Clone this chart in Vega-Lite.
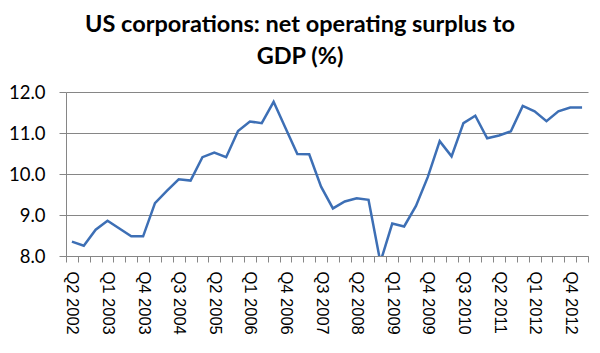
{
  "$schema": "https://vega.github.io/schema/vega-lite/v6.json",
  "autosize": {"type": "none"},
  "width": 522,
  "height": 164,
  "padding": {"left": 66, "top": 92, "right": 12, "bottom": 97},
  "background": "white",
  "config": {"view": {"stroke": null}},
  "title": {
    "text": ["US corporations: net operating surplus to", "GDP (%)"],
    "font": "Lato",
    "fontSize": 23.5,
    "fontWeight": "bold",
    "color": "#000000",
    "lineHeight": 32,
    "anchor": "middle",
    "frame": "group",
    "dx": -27,
    "offset": 15
  },
  "data": {
    "values": [
      {"q": "Q2 2002", "v": 8.35},
      {"q": "Q3 2002", "v": 8.25},
      {"q": "Q4 2002", "v": 8.64},
      {"q": "Q1 2003", "v": 8.86},
      {"q": "Q2 2003", "v": 8.67},
      {"q": "Q3 2003", "v": 8.48},
      {"q": "Q4 2003", "v": 8.48},
      {"q": "Q1 2004", "v": 9.29},
      {"q": "Q2 2004", "v": 9.59},
      {"q": "Q3 2004", "v": 9.87},
      {"q": "Q4 2004", "v": 9.84},
      {"q": "Q1 2005", "v": 10.41},
      {"q": "Q2 2005", "v": 10.52},
      {"q": "Q3 2005", "v": 10.41},
      {"q": "Q4 2005", "v": 11.05},
      {"q": "Q1 2006", "v": 11.28},
      {"q": "Q2 2006", "v": 11.24},
      {"q": "Q3 2006", "v": 11.76},
      {"q": "Q4 2006", "v": 11.12},
      {"q": "Q1 2007", "v": 10.49},
      {"q": "Q2 2007", "v": 10.48},
      {"q": "Q3 2007", "v": 9.69},
      {"q": "Q4 2007", "v": 9.16},
      {"q": "Q1 2008", "v": 9.33},
      {"q": "Q2 2008", "v": 9.41},
      {"q": "Q3 2008", "v": 9.37},
      {"q": "Q4 2008", "v": 7.85},
      {"q": "Q1 2009", "v": 8.79},
      {"q": "Q2 2009", "v": 8.72},
      {"q": "Q3 2009", "v": 9.22},
      {"q": "Q4 2009", "v": 9.93},
      {"q": "Q1 2010", "v": 10.8},
      {"q": "Q2 2010", "v": 10.43},
      {"q": "Q3 2010", "v": 11.24},
      {"q": "Q4 2010", "v": 11.42},
      {"q": "Q1 2011", "v": 10.87},
      {"q": "Q2 2011", "v": 10.94},
      {"q": "Q3 2011", "v": 11.04},
      {"q": "Q4 2011", "v": 11.66},
      {"q": "Q1 2012", "v": 11.53},
      {"q": "Q2 2012", "v": 11.29},
      {"q": "Q3 2012", "v": 11.53},
      {"q": "Q4 2012", "v": 11.62},
      {"q": "Q1 2013", "v": 11.62}
    ]
  },
  "mark": {"type": "line", "color": "#3d6fb5", "strokeWidth": 2.5, "clip": true},
  "encoding": {
    "x": {
      "field": "q",
      "type": "ordinal",
      "sort": null,
      "bandPosition": 0.5,
      "scale": {"type": "band", "paddingInner": 0, "paddingOuter": 0},
      "axis": {
        "title": null,
        "tickBand": "extent",
        "labelExpr": "indexof(domain('x'), datum.value) % 3 == 0 ? datum.value : ''",
        "labelAngle": 90,
        "labelAlign": "left",
        "labelBaseline": "middle",
        "labelFont": "Liberation Sans",
        "labelFontSize": 16.5,
        "labelColor": "#000000",
        "labelPadding": 9,
        "labelOverlap": false,
        "labelFlush": false,
        "tickSize": 6,
        "tickColor": "#868686",
        "domainColor": "#868686",
        "grid": false
      }
    },
    "y": {
      "field": "v",
      "type": "quantitative",
      "scale": {"domain": [8, 12], "nice": false, "zero": false},
      "axis": {
        "title": null,
        "values": [8, 9, 10, 11, 12],
        "format": ".1f",
        "labelFont": "Lato",
        "labelFontSize": 18.5,
        "labelColor": "#000000",
        "labelPadding": 14,
        "tickSize": 7,
        "tickColor": "#868686",
        "domainColor": "#868686",
        "gridColor": "#868686",
        "grid": true
      }
    }
  }
}
